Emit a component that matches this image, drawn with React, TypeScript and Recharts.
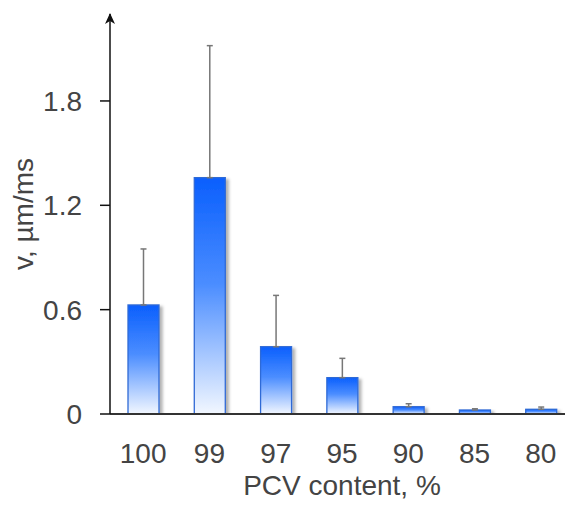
import { BarChart, Bar, XAxis, YAxis, ErrorBar } from 'recharts';

const categories = ['100', '99', '97', '95', '90', '85', '80'];
const velocity = [0.627, 1.359, 0.387, 0.209, 0.042, 0.023, 0.027];
const upperError = [0.322, 0.759, 0.295, 0.111, 0.017, 0.007, 0.013];
const yTicks = [0, 0.6, 1.2, 1.8];

const data = categories.map((c, i) => ({ pcv: c, v: velocity[i], err: [0, upperError[i]] }));

const font = '"Liberation Sans", Arial, sans-serif';

const BarShape = (props: any) => {
    const { x, y, width, height } = props;
    if (!height || height <= 0) return null;
    return (
        <rect x={x} y={y} width={width} height={height}
            fill="url(#barGrad)" stroke="#2f6ad6" strokeWidth={1.3} filter="url(#barShadow)" />
    );
};

const YLabel = (props: any) => {
    const vb = props.viewBox || {};
    const cx = (vb.x || 0) + 23;
    const cy = (vb.y || 0) + (vb.height || 0) / 2;
    return (
        <text x={cx} y={cy} transform={`rotate(-90 ${cx} ${cy})`} textAnchor="middle"
            dominantBaseline="central" fill="#444" fontSize={28} fontFamily={font}>
            v, µm/ms
        </text>
    );
};

export default function App() {
    return (
        <div style={{ position: 'absolute', left: 0, top: 0, width: 565, height: 509, overflow: 'hidden', background: '#fff' }}>
            <BarChart width={574} height={509} data={data} barSize={31}
                margin={{ top: 14, right: 0, bottom: 0, left: 0 }}>
                <defs>
                    <linearGradient id="barGrad" x1="0" y1="0" x2="0" y2="1">
                        <stop offset="0%" stopColor="#0a5ffd" />
                        <stop offset="45%" stopColor="#4b8dff" />
                        <stop offset="100%" stopColor="#f2f7ff" />
                    </linearGradient>
                    <filter id="barShadow" x="-30%" y="-10%" width="160%" height="130%">
                        <feDropShadow dx="3" dy="2" stdDeviation="1.6" floodColor="#000" floodOpacity="0.3" />
                    </filter>
                    <marker id="arrowUp" markerWidth="10" markerHeight="12" refX="5" refY="1"
                        orient="0" markerUnits="userSpaceOnUse">
                        <path d="M0,11 L5,0 L10,11 L5,8 Z" fill="#111" />
                    </marker>
                </defs>
                <XAxis dataKey="pcv" height={95} tickLine={false} tickSize={0} tickMargin={29}
                    axisLine={{ stroke: '#333', strokeWidth: 1.8 }}
                    tick={{ fill: '#444', fontSize: 28, fontFamily: font }}
                    label={{ value: 'PCV content, %', position: 'insideBottom', offset: 14, fill: '#444', fontSize: 28, fontFamily: font }} />
                <YAxis domain={[0, 2.3]} ticks={yTicks} width={110} tickSize={10} tickMargin={18}
                    allowDataOverflow
                    axisLine={{ stroke: '#111', strokeWidth: 1.5, markerStart: 'url(#arrowUp)' }}
                    tickLine={{ stroke: '#111', strokeWidth: 1.5 }}
                    tick={{ fill: '#444', fontSize: 28, fontFamily: font }}
                    label={<YLabel />} />
                <Bar dataKey="v" shape={<BarShape />} isAnimationActive={false}>
                    <ErrorBar dataKey="err" width={3} stroke="#777" strokeWidth={1.5} direction="y" />
                </Bar>
            </BarChart>
        </div>
    );
}
